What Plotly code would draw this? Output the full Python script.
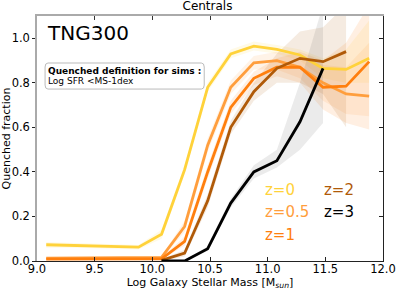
import plotly.graph_objects as go

mass = [9.08, 9.28, 9.48, 9.68, 9.88, 10.08, 10.28, 10.48, 10.68, 10.88, 11.08, 11.28, 11.48, 11.68, 11.88]

labels = ["z=0", "z=0.5", "z=1", "z=2", "z=3"]
colors = ["#FFD23A", "#FF9E3D", "#FF7F0E", "#B05A08", "#000000"]
band_rgb = ["255,210,58", "255,158,61", "255,127,14", "176,90,8", "90,90,90"]

frac_z0 = [0.073, 0.071, 0.068, 0.065, 0.062, 0.12, 0.41, 0.78, 0.93, 0.965, 0.95, 0.925, 0.865, 0.86, 0.91]
frac_z05 = [0.013, 0.013, 0.013, 0.013, 0.013, 0.016, 0.155, 0.52, 0.78, 0.89, 0.90, 0.87, 0.80, 0.75, 0.74]
frac_z1 = [0.008, 0.008, 0.008, 0.008, 0.008, 0.01, 0.088, 0.40, 0.69, 0.82, 0.87, 0.87, 0.78, 0.785, 0.895]
frac_z2 = [None, None, None, None, None, 0.003, 0.035, 0.27, 0.60, 0.76, 0.865, 0.91, 0.895, 0.94, None]
frac_z3 = [None, None, None, None, None, 0.0, 0.0, 0.055, 0.26, 0.40, 0.45, 0.625, 0.865, None, None]

lo_z0 = [0.06, 0.06, 0.057, 0.055, 0.052, 0.10, 0.39, 0.76, 0.91, 0.945, 0.93, 0.90, 0.82, 0.80, 0.80]
hi_z0 = [0.085, 0.082, 0.079, 0.075, 0.072, 0.14, 0.43, 0.80, 0.95, 0.985, 0.97, 0.95, 0.91, 0.95, 1.08]
lo_z05 = [0.008, 0.008, 0.008, 0.008, 0.008, 0.01, 0.13, 0.49, 0.75, 0.86, 0.86, 0.82, 0.72, 0.66, 0.65]
hi_z05 = [0.018, 0.018, 0.018, 0.018, 0.018, 0.022, 0.18, 0.55, 0.81, 0.92, 0.94, 0.92, 0.88, 0.87, 0.98]
lo_z1 = [0.004, 0.004, 0.004, 0.004, 0.004, 0.006, 0.07, 0.37, 0.66, 0.79, 0.83, 0.80, 0.68, 0.62, 0.59]
hi_z1 = [0.012, 0.012, 0.012, 0.012, 0.012, 0.015, 0.11, 0.43, 0.72, 0.85, 0.91, 0.94, 0.90, 0.98, 1.15]
lo_z2 = [None, None, None, None, None, 0.0, 0.02, 0.24, 0.57, 0.72, 0.80, 0.80, 0.75, 0.60, None]
hi_z2 = [None, None, None, None, None, 0.008, 0.05, 0.30, 0.63, 0.80, 0.93, 1.03, 1.05, 1.15, None]
lo_z3 = [None, None, None, None, None, 0.0, 0.0, 0.045, 0.24, 0.37, 0.42, 0.50, 0.62, None, None]
hi_z3 = [None, None, None, None, None, 0.0, 0.005, 0.065, 0.28, 0.43, 0.50, 0.80, 1.15, None, None]

series = [frac_z0, frac_z05, frac_z1, frac_z2, frac_z3]
lows = [lo_z0, lo_z05, lo_z1, lo_z2, lo_z3]
highs = [hi_z0, hi_z05, hi_z1, hi_z2, hi_z3]

fig = go.Figure()

for i in range(5):
    xs = [m for m, v in zip(mass, lows[i]) if v is not None]
    lo = [v for v in lows[i] if v is not None]
    hi = [v for v in highs[i] if v is not None]
    fig.add_trace(go.Scatter(
        x=xs + xs[::-1], y=hi + lo[::-1], fill="toself", mode="none",
        fillcolor="rgba(%s,0.12)" % band_rgb[i], showlegend=False, hoverinfo="skip"))

for i in range(5):
    xs = [m for m, v in zip(mass, series[i]) if v is not None]
    ys = [v for v in series[i] if v is not None]
    fig.add_trace(go.Scatter(x=xs, y=ys, mode="lines",
                             line=dict(color=colors[i], width=2.8), showlegend=False))

# invisible trace for secondary axes
fig.add_trace(go.Scatter(x=[9, 12], y=[0, 1.1], xaxis="x2", yaxis="y2", mode="none",
                         showlegend=False, hoverinfo="skip"))

font = "DejaVu Sans"
tickvals_x = [9.0, 9.5, 10.0, 10.5, 11.0, 11.5, 12.0]
tickvals_y = [0.0, 0.2, 0.4, 0.6, 0.8, 1.0]

fig.update_layout(
    width=399, height=291,
    margin=dict(l=37, r=16, t=16, b=30),
    paper_bgcolor="white", plot_bgcolor="white",
    font=dict(family=font, color="black", size=11),
    title=dict(text="Centrals", x=0.52, xanchor="center", y=0.995, yanchor="top",
               font=dict(size=12, family=font)),
    xaxis=dict(range=[9, 12], tickvals=tickvals_x, ticktext=["9.0", "9.5", "10.0", "10.5", "11.0", "11.5", "12.0"],
               ticks="inside", ticklen=4, tickcolor="#222", showline=True, linecolor="#222", linewidth=1,
               showgrid=False, zeroline=False, tickfont=dict(size=11.5), automargin=False,
               ticklabelstandoff=-3,
               title=dict(text="Log Galaxy Stellar Mass [M<sub><i>sun</i></sub>]", standoff=2, font=dict(size=11))),
    yaxis=dict(range=[0, 1.1], tickvals=tickvals_y, ticktext=["0.0", "0.2", "0.4", "0.6", "0.8", "1.0"],
               ticks="outside", ticklen=3, tickcolor="#222", showline=True, linecolor="#aaaaaa", linewidth=1.5,
               showgrid=False, zeroline=False, tickfont=dict(size=11.5), automargin=False,
               title=dict(text="Quenched fraction", standoff=4, font=dict(size=11))),
    xaxis2=dict(range=[9, 12], overlaying="x", side="top", tickvals=tickvals_x, showticklabels=False,
                ticks="inside", ticklen=4, tickcolor="#333", showline=True, linecolor="#aaaaaa", linewidth=1.5,
                showgrid=False, zeroline=False, automargin=False),
    yaxis2=dict(range=[0, 1.1], overlaying="y", side="right", tickvals=tickvals_y, showticklabels=False,
                ticks="inside", ticklen=4, tickcolor="#222", showline=True, linecolor="#222", linewidth=1,
                showgrid=False, zeroline=False, automargin=False),
)

# rounded box for the definition
x0, x1, y0, y1 = 9.07, 10.45, 0.772, 0.889
rx, ry = 0.025, 0.018
path = (f"M {x0+rx},{y0} L {x1-rx},{y0} Q {x1},{y0} {x1},{y0+ry} L {x1},{y1-ry} Q {x1},{y1} {x1-rx},{y1} "
        f"L {x0+rx},{y1} Q {x0},{y1} {x0},{y1-ry} L {x0},{y0+ry} Q {x0},{y0} {x0+rx},{y0} Z")
fig.add_shape(type="path", path=path, xref="x", yref="y", line=dict(color="#bbbbbb", width=1),
              fillcolor="rgba(255,255,255,0.9)", layer="above")

fig.add_annotation(x=9.075, y=0.853, xref="x", yref="y", text="<b>Quenched definition for sims :</b>",
                   showarrow=False, xanchor="left", yanchor="middle", font=dict(size=9, family=font))
fig.add_annotation(x=9.075, y=0.808, xref="x", yref="y", text="Log SFR <MS-1dex",
                   showarrow=False, xanchor="left", yanchor="middle", font=dict(size=9, family=font))
fig.add_annotation(x=9.07, y=1.024, xref="x", yref="y", text="TNG300",
                   showarrow=False, xanchor="left", yanchor="middle", font=dict(size=20, family=font))

leg_pos = [(10.96, 0.319), (10.96, 0.22), (10.96, 0.117), (11.47, 0.319), (11.47, 0.22)]
for i in range(5):
    fig.add_annotation(x=leg_pos[i][0], y=leg_pos[i][1], xref="x", yref="y", text=labels[i],
                       showarrow=False, xanchor="left", yanchor="middle",
                       font=dict(size=15, family=font, color=colors[i]))

fig.write_html("out.html", config={"displayModeBar": False},
               post_script="document.body.style.margin='0';")
